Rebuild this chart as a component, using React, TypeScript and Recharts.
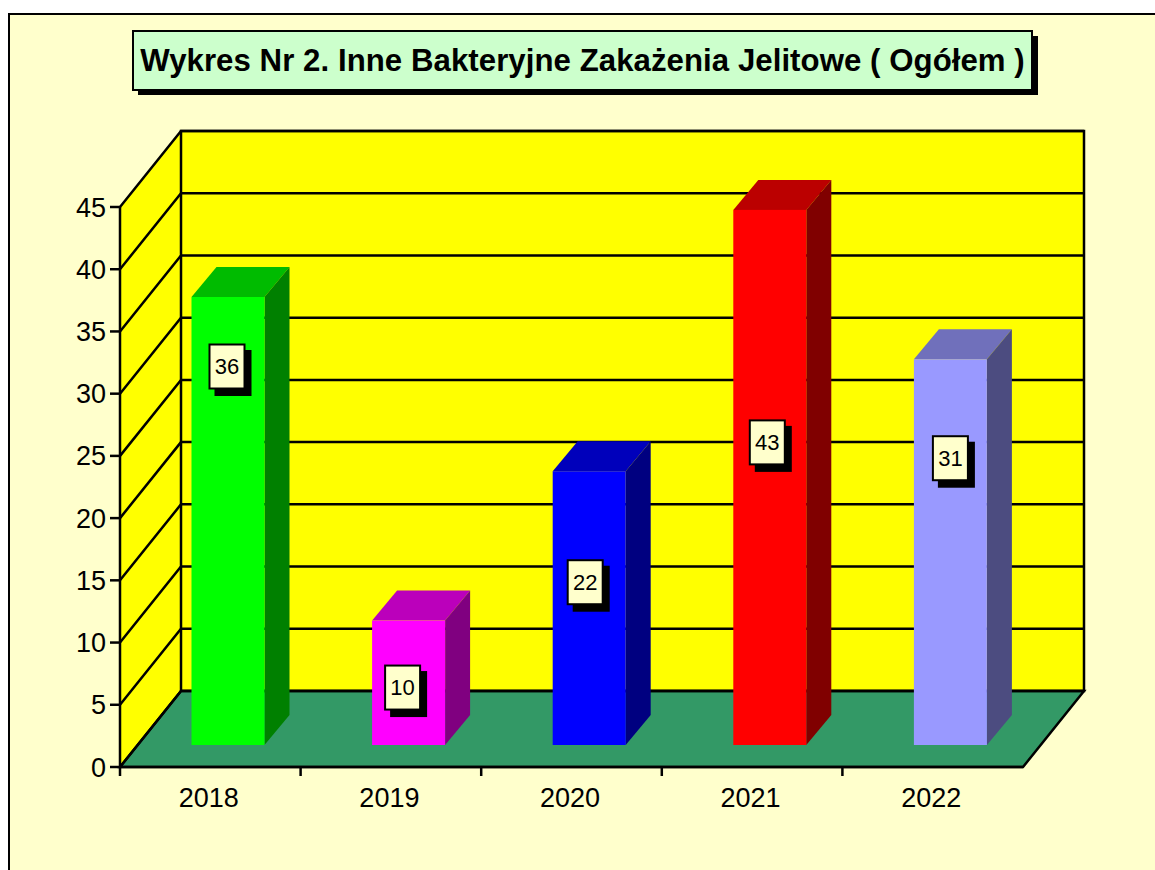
import { BarChart, Bar, XAxis, YAxis, CartesianGrid, ReferenceArea, LabelList } from "recharts";

const years = ["2018", "2019", "2020", "2021", "2022"];
const cases = [36, 10, 22, 43, 31];
const yTicks = [0, 5, 10, 15, 20, 25, 30, 35, 40, 45];

const frontColors = ["#00ff00", "#ff00ff", "#0000ff", "#ff0000", "#9999ff"];
const topColors = ["#00bb00", "#bb00bb", "#0000bb", "#bb0000", "#7070bb"];
const sideColors = ["#008000", "#800080", "#000080", "#800000", "#4c4c80"];

const chartData = years.map((year, i) => ({ year, value: cases[i] }));

// 3D look: wall depth, bar shift inside the box, bar's own depth
const DEPTH_X = 61;
const DEPTH_Y = 76;
const SHIFT_X = 17.5;
const SHIFT_Y = 22;
const BAR_DX = 25;
const BAR_DY = 30;
const LINE = 2.5;

// hand placed data labels in the original: x offset from bar centre, drop from bar top
const labelDx = [-1, -6, -4, -2.5, 0];
const labelDrop = [69.5, 67, 111, 232.5, 99];

const FONT = '"Liberation Sans", Arial, sans-serif';

const Walls = (props: any) => {
  const { x, y, width, height } = props;
  const bottom = y + height;
  const right = x + width;
  return (
    <g>
      <polygon
        points={`${x},${bottom} ${x},${y} ${x + DEPTH_X},${y - DEPTH_Y} ${x + DEPTH_X},${bottom - DEPTH_Y}`}
        fill="#ffff00"
      />
      <rect x={x + DEPTH_X} y={y - DEPTH_Y} width={width} height={height} fill="#ffff00" stroke="#000" strokeWidth={LINE} />
      <polygon
        points={`${x},${bottom} ${right},${bottom} ${right + DEPTH_X},${bottom - DEPTH_Y} ${x + DEPTH_X},${bottom - DEPTH_Y}`}
        fill="#339966"
        stroke="#000"
        strokeWidth={LINE}
      />
    </g>
  );
};

const GridLine = (props: any) => {
  const { x1, x2, y1 } = props;
  return (
    <path
      d={`M${x1},${y1} L${x1 + DEPTH_X},${y1 - DEPTH_Y} L${x2 + DEPTH_X},${y1 - DEPTH_Y}`}
      fill="none"
      stroke="#000"
      strokeWidth={LINE}
    />
  );
};

const Bar3D = (props: any) => {
  const { x, y, width, height, index } = props;
  const l = x + SHIFT_X;
  const r = l + width;
  const t = y - SHIFT_Y;
  const b = t + height;
  return (
    <g>
      <polygon
        points={`${l},${t} ${l + BAR_DX},${t - BAR_DY} ${r + BAR_DX},${t - BAR_DY} ${r},${t}`}
        fill={topColors[index]}
      />
      <polygon
        points={`${r},${t} ${r + BAR_DX},${t - BAR_DY} ${r + BAR_DX},${b - BAR_DY} ${r},${b}`}
        fill={sideColors[index]}
      />
      <rect x={l} y={t} width={width} height={height} fill={frontColors[index]} />
    </g>
  );
};

const ValueBox = (props: any) => {
  const { x, y, width, value, index } = props;
  const cx = x + SHIFT_X + width / 2 + labelDx[index];
  const cy = y - SHIFT_Y + labelDrop[index];
  return (
    <g>
      <rect x={cx - 18.5 + 6} y={cy - 22.5 + 6} width={37} height={46} fill="#000" />
      <rect x={cx - 17.5} y={cy - 22} width={35} height={44} fill="#ffffcc" stroke="#000" strokeWidth={2} />
      <text x={cx} y={cy} textAnchor="middle" dominantBaseline="central" fontFamily={FONT} fontSize={22} fill="#000">
        {value}
      </text>
    </g>
  );
};

// x axis ticks sit on the category edges, labels in the middle
const YearTick = (props: any) => {
  const { x, y, payload } = props;
  const half = payload.offset ?? 90.3;
  return (
    <g>
      <line x1={x - half} y1={y} x2={x - half} y2={y + 9} stroke="#000" strokeWidth={LINE} />
      <text x={x - 1.5} y={y + 40} textAnchor="middle" fontFamily={FONT} fontSize={27} fill="#000">
        {payload.value}
      </text>
    </g>
  );
};

const App = () => {
  return (
    <div style={{ position: "fixed", left: 0, top: 0, width: 1155, height: 870, overflow: "hidden", background: "#fff" }}>
      <div
        style={{
          position: "absolute",
          left: 8,
          top: 13,
          width: 1300,
          height: 1000,
          background: "#ffffcc",
          border: "2px solid #000",
        }}
      />
      <div style={{ position: "absolute", left: 138, top: 36, width: 900, height: 59, background: "#000" }} />
      <div
        style={{
          position: "absolute",
          left: 132,
          top: 30,
          width: 897,
          height: 57,
          background: "#ccffcc",
          border: "2px solid #000",
          fontFamily: FONT,
          fontWeight: "bold",
          fontSize: 31.2,
          letterSpacing: 0.05,
          lineHeight: "57px",
          textAlign: "center",
          whiteSpace: "nowrap",
          color: "#000",
        }}
      >
        Wykres Nr 2. Inne Bakteryjne Zakażenia Jelitowe ( Ogółem )
      </div>
      <div style={{ position: "absolute", left: 0, top: 0 }}>
        <BarChart
          width={1155}
          height={870}
          data={chartData}
          margin={{ top: 207, right: 132, bottom: 63, left: 60 }}
          barSize={73}
        >
          <ReferenceArea y1={0} y2={45} ifOverflow="visible" shape={<Walls />} zIndex={-200} />
          <CartesianGrid
            vertical={false}
            zIndex={-100}
            horizontal={(p: any) => <GridLine key={p.key ?? p.y1} {...p} />}
          />
          <XAxis
            dataKey="year"
            height={40}
            axisLine={{ stroke: "#000", strokeWidth: LINE }}
            tickLine={false}
            tickSize={0}
            tickMargin={0}
            tick={<YearTick />}
            interval={0}
          />
          <YAxis
            width={60}
            domain={[0, 45]}
            ticks={yTicks}
            interval={0}
            axisLine={{ stroke: "#000", strokeWidth: LINE }}
            tickLine={{ stroke: "#000", strokeWidth: LINE }}
            tickSize={10}
            tickMargin={4}
            tick={{ fill: "#000", fontSize: 27, fontFamily: FONT }}
          />
          <Bar dataKey="value" isAnimationActive={false} shape={<Bar3D />}>
            <LabelList dataKey="value" content={<ValueBox />} />
          </Bar>
        </BarChart>
      </div>
    </div>
  );
};

export default App;
